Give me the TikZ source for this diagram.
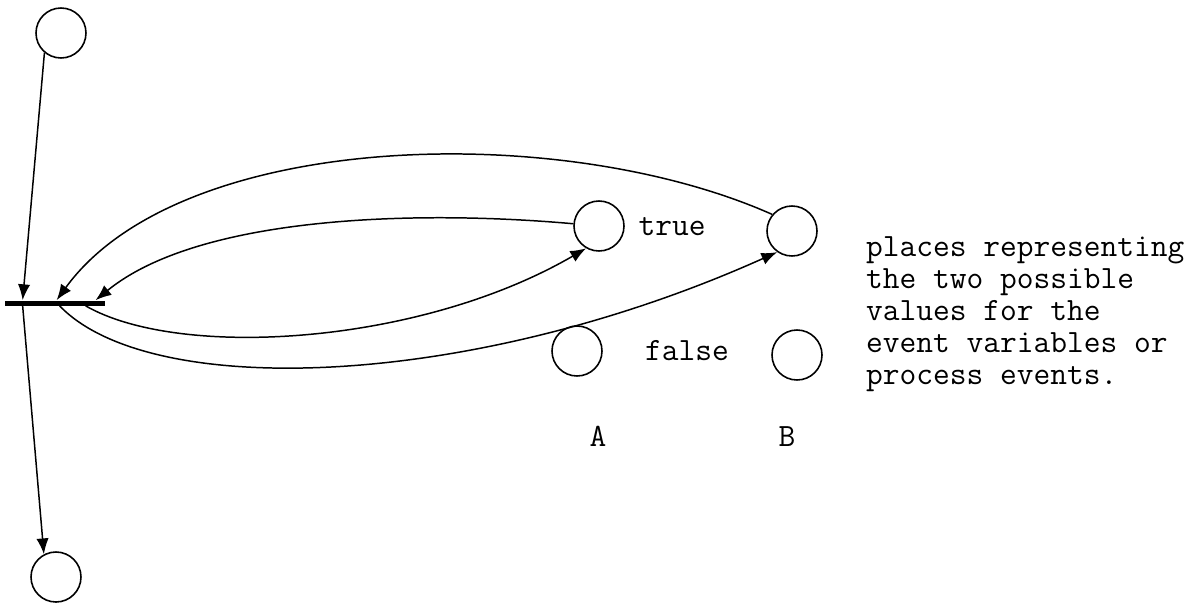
\documentclass[tikz,border=0pt]{standalone}
\usepackage{fontspec}
\usetikzlibrary{positioning, arrows.meta}

\begin{document}
\begin{tikzpicture}[
    x=0.02cm, y=-0.02cm,
    place/.style={circle, draw, line width=0.9pt, minimum size=1cm, inner sep=0pt},
    trans/.style={rectangle, fill=black, minimum width=2cm, minimum height=0.1cm, inner sep=0pt},
    arr/.style={-{Latex[length=9pt, width=7pt]}, line width=0.85pt},
    lbl/.style={font=\ttfamily\fontsize{18.5}{18.3}\selectfont}
]
\useasboundingbox (0,0) rectangle (1189,602);
\node[place] (pin)  at (61,33)  {};
\node[place] (pout) at (56,577) {};
\node[trans] (t)    at (55,303) {};
\node[place] (at)   at (599,226) {};
\node[place] (bt)   at (792,231) {};
\node[place] (af)   at (577,351) {};
\node[place] (bf)   at (797,355) {};
\node[lbl] (ltrue)  at (672,227) {true};
\node[lbl] (lfalse) at (687,351) {false};
\node[lbl] (la)     at (598,436) {A};
\node[lbl] (lb)     at (787,437) {B};
\node[lbl, anchor=west, align=left] (note) at (860,314)
    {places representing\\the two possible\\values for the\\event variables or\\process events.};

\draw[arr] (pin.230) -- ([xshift=0.36cm]t.north west);
\draw[arr] ([xshift=0.36cm]t.south west) -- (pout.118);
\draw[arr] (bt.140) .. controls (560,120) and (180,130) .. ([xshift=1.04cm]t.north west);
\draw[arr] (at.175) .. controls (420,210) and (200,215) .. ([xshift=1.82cm]t.north west);
\draw[arr] ([xshift=1.62cm]t.south west) .. controls (180,360) and (420,345) .. (at.240);
\draw[arr] ([xshift=1.1cm]t.south west) .. controls (150,400) and (470,390) .. (bt.235);
\end{tikzpicture}
\end{document}
